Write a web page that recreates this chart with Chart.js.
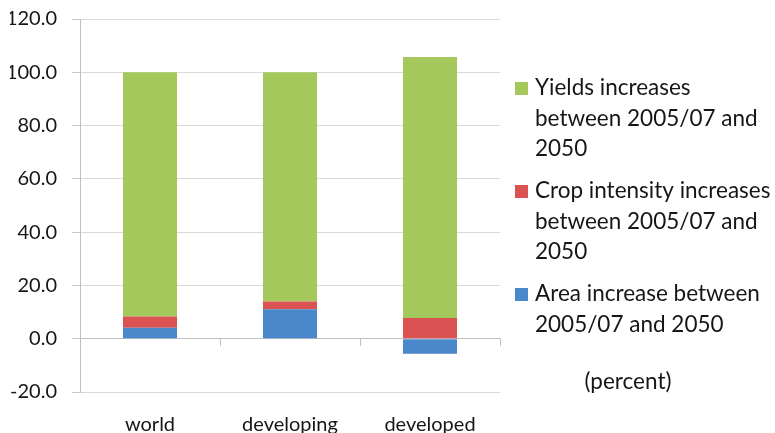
<!DOCTYPE html>
<html>
<head>
<meta charset="utf-8">
<script src="https://cdn.jsdelivr.net/npm/chart.js@4.4.1/dist/chart.umd.min.js"></script>
<style>
  html, body { margin: 0; padding: 0; background: #fff; }
</style>
</head>
<body>
<canvas id="myChart" width="775" height="433"></canvas>
<script>
const regions = ['world', 'developing', 'developed'];
const areaIncrease = [4.1, 11.1, -5.6];
const cropIntensity = [4.2, 2.9, 7.8];
const yieldIncrease = [91.7, 86.0, 97.9];
const yTicks = [-20, 0, 20, 40, 60, 80, 100, 120];

const areaLabel = ['Area increase between', '2005/07 and 2050'];
const cropLabel = ['Crop intensity increases', 'between 2005/07 and', '2050'];
const yieldLabel = ['Yields increases', 'between 2005/07 and', '2050'];
const unitNote = '(percent)';

// legend on the right, drawn from the datasets (top = last dataset)
const sideLegend = {
    id: 'sideLegend',
    afterDraw(chart) {
        const ctx = chart.ctx;
        const sets = chart.data.datasets.slice().reverse();
        const lineH = 30.5;
        let y = 88;
        ctx.save();
        ctx.font = '22.5px Lato';
        ctx.textBaseline = 'middle';
        ctx.textAlign = 'left';
        sets.forEach(d => {
            ctx.fillStyle = d.backgroundColor;
            ctx.fillRect(515, y - 6, 13, 13);
            ctx.fillStyle = '#161616';
            d.lines.forEach((l, i) => ctx.fillText(l, 535, y + i * lineH));
            y += d.lines.length * lineH + 11.5;
        });
        ctx.textAlign = 'center';
        ctx.fillText(unitNote, 628, 382);
        ctx.restore();
    }
};

new Chart('myChart', {
    type: 'bar',
    data: {
        labels: regions,
        datasets: [
            { label: areaLabel.join(' '), lines: areaLabel, data: areaIncrease, backgroundColor: '#4a87cb' },
            { label: cropLabel.join(' '), lines: cropLabel, data: cropIntensity, backgroundColor: '#da5352' },
            { label: yieldLabel.join(' '), lines: yieldLabel, data: yieldIncrease, backgroundColor: '#a4c85c' }
        ]
    },
    options: {
        responsive: false,
        animation: false,
        categoryPercentage: 1,
        barPercentage: 0.386,
        layout: { padding: { left: 10, right: 275, top: 19, bottom: 0 } },
        plugins: {
            legend: { display: false },
            tooltip: { enabled: false }
        },
        scales: {
            x: {
                stacked: true,
                grid: { display: false, drawTicks: false },
                border: { display: false },
                ticks: { color: '#161616', padding: 21, font: { family: 'Lato', size: 20 } },
                afterFit(scale) { scale.height = 41; }
            },
            x0: {
                type: 'category',
                axis: 'x',
                offset: true,
                position: { y: 0 },
                grid: { offset: true, drawOnChartArea: false, tickLength: 7, color: '#bfbfbf' },
                border: { display: true, color: '#bfbfbf' },
                ticks: { display: false }
            },
            y: {
                stacked: true,
                min: -20,
                max: 120,
                afterBuildTicks(scale) { scale.ticks = yTicks.map(v => ({ value: v })); },
                grid: { color: '#d9d9d9', tickLength: 8, tickColor: '#c8c8c8' },
                border: { display: true, color: '#bfbfbf' },
                ticks: {
                    color: '#161616',
                    padding: 15,
                    font: { family: 'Lato', size: 20 },
                    callback: v => v.toFixed(1)
                },
                afterFit(scale) {
                    scale.width = 70;
                    scale.paddingTop = 0;
                    scale.paddingBottom = 0;
                }
            }
        }
    },
    plugins: [sideLegend]
});
</script>
</body>
</html>
